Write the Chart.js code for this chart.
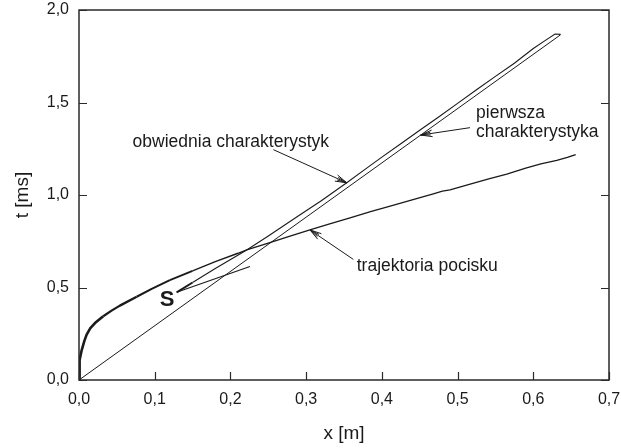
<!DOCTYPE html>
<html><head><meta charset="utf-8">
<script src="https://cdn.jsdelivr.net/npm/chart.js@4/dist/chart.umd.min.js"></script>
<style>html,body{margin:0;padding:0;background:#fff}#wrap{width:621px;height:448px}</style>
</head><body><div id="wrap"><canvas id="c" width="621" height="448"></canvas></div>
<script>
// ---- axis ticks ----
const xTicks = [0, 0.1, 0.2, 0.3, 0.4, 0.5, 0.6, 0.7];
const xTickLabels = ['0,0', '0,1', '0,2', '0,3', '0,4', '0,5', '0,6', '0,7'];
const yTicks = [0, 0.5, 1.0, 1.5, 2.0];
const yTickLabels = ['0,0', '0,5', '1,0', '1,5', '2,0'];

// ---- series: trajektoria pocisku ----
const trajX = [0, 0.0003, 0.0013, 0.0036, 0.007, 0.0101, 0.015, 0.0211, 0.032, 0.043, 0.054, 0.0762, 0.096, 0.12, 0.15, 0.18, 0.21, 0.2215, 0.25, 0.2787, 0.305, 0.33, 0.358, 0.385, 0.411, 0.44, 0.468, 0.48, 0.49, 0.512, 0.54, 0.565, 0.59, 0.61, 0.631, 0.645, 0.656];
const trajT = [0, 0.05, 0.108, 0.162, 0.21, 0.245, 0.28, 0.308, 0.345, 0.375, 0.402, 0.450, 0.493, 0.54, 0.59, 0.64, 0.685, 0.703, 0.74, 0.778, 0.811, 0.843, 0.877, 0.910, 0.940, 0.973, 1.006, 1.021, 1.028, 1.053, 1.086, 1.113, 1.145, 1.168, 1.187, 1.203, 1.218];

// ---- series: pierwsza charakterystyka (straight) ----
const charX = [0, 0.636];
const charT = [0, 1.866];

// ---- series: obwiednia charakterystyk ----
const envX = [0.129, 0.15, 0.18, 0.2215, 0.25, 0.29, 0.32, 0.3536, 0.38, 0.40, 0.425, 0.45, 0.475, 0.50, 0.525, 0.55, 0.575, 0.60, 0.615, 0.6287, 0.636];
const envT = [0.474, 0.527, 0.603, 0.703, 0.778, 0.888, 0.969, 1.066, 1.145, 1.205, 1.277, 1.350, 1.422, 1.495, 1.569, 1.641, 1.712, 1.792, 1.833, 1.870, 1.868];

// ---- series: short branch from S ----
const branchX = [0.129, 0.2258];
const branchT = [0.474, 0.613];

// ---- annotations (data coordinates) ----
const noteTexts = ['obwiednia charakterystyk', 'pierwsza', 'charakterystyka', 'trajektoria pocisku'];
const noteX = [0.0708, 0.5244, 0.5244, 0.3668];
const noteT = [1.287, 1.445, 1.341, 0.616];
const arrowFromX = [0.2568, 0.5164, 0.3623];
const arrowFromT = [1.245, 1.364, 0.652];
const arrowToX = [0.3536, 0.4513, 0.3051];
const arrowToT = [1.066, 1.324, 0.811];
const markText = 'S';
const markX = 0.1162, markT = 0.434;

const pts = (xs, ts) => xs.map((v, i) => ({x: v, y: ts[i]}));
const INK = '#1a1a1a';
const FONT = '"Liberation Sans", Arial, sans-serif';

const framePlugin = {
  id: 'frame',
  afterDraw(chart) {
    const {ctx, chartArea: a, scales: {x, y}} = chart;
    ctx.save();
    ctx.strokeStyle = '#2a2a2a';
    ctx.lineWidth = 1.5;
    ctx.strokeRect(a.left, a.top, a.right - a.left, a.bottom - a.top);
    ctx.beginPath();
    xTicks.forEach(v => {
      const px = Math.round(x.getPixelForValue(v)) + 0.5;
      ctx.moveTo(px, a.bottom); ctx.lineTo(px, a.bottom - 8);
    });
    yTicks.forEach(v => {
      const py = Math.round(y.getPixelForValue(v)) + 0.5;
      ctx.moveTo(a.left, py); ctx.lineTo(a.left + 8, py);
      ctx.moveTo(a.right, py); ctx.lineTo(a.right - 8, py);
    });
    ctx.lineWidth = 1.2;
    ctx.stroke();

    // annotations
    ctx.fillStyle = INK;
    ctx.font = '17.5px ' + FONT;
    ctx.textAlign = 'left';
    ctx.textBaseline = 'middle';
    noteTexts.forEach((t, i) => {
      ctx.fillText(t, x.getPixelForValue(noteX[i]), y.getPixelForValue(noteT[i]));
    });
    ctx.font = 'bold 22px ' + FONT;
    ctx.textAlign = 'center';
    ctx.fillText(markText, x.getPixelForValue(markX), y.getPixelForValue(markT));

    ctx.strokeStyle = INK;
    ctx.lineWidth = 1;
    arrowFromX.forEach((_, i) => {
      const x0 = x.getPixelForValue(arrowFromX[i]), y0 = y.getPixelForValue(arrowFromT[i]);
      const x1 = x.getPixelForValue(arrowToX[i]), y1 = y.getPixelForValue(arrowToT[i]);
      const ang = Math.atan2(y1 - y0, x1 - x0);
      ctx.beginPath();
      ctx.moveTo(x0, y0); ctx.lineTo(x1, y1);
      [-0.28, -0.14, 0.14, 0.28].forEach(d => {
        const L = Math.abs(d) > 0.2 ? 12 : 10;
        ctx.moveTo(x1, y1);
        ctx.lineTo(x1 - L * Math.cos(ang + d), y1 - L * Math.sin(ang + d));
      });
      ctx.stroke();
    });
    ctx.restore();
  }
};

const tickFmt = (ticks, labels) => v => {
  const i = ticks.findIndex(t => Math.abs(t - v) < 1e-9);
  return i >= 0 ? labels[i] : '';
};

const trajWidth = c => {
  const px = c.p0.parsed.x;
  if (px < 0.03) return 2.6;
  if (px < 0.06) return 2.3;
  if (px < 0.1) return 2.0;
  if (px < 0.15) return 1.7;
  if (px < 0.2) return 1.5;
  return 1.3;
};

new Chart(document.getElementById('c'), {
  type: 'scatter',
  data: {
    datasets: [
      {data: pts(trajX, trajT), showLine: true, pointRadius: 0, borderColor: INK, borderWidth: 1.3,
       borderJoinStyle: 'round', segment: {borderWidth: trajWidth}},
      {data: pts(charX, charT), showLine: true, pointRadius: 0, borderColor: INK, borderWidth: 1},
      {data: pts(envX, envT), showLine: true, pointRadius: 0, borderColor: INK, borderWidth: 1.1,
       segment: {borderWidth: c => (c.p0DataIndex === 0 ? 2 : 1.1)}},
      {data: pts(branchX, branchT), showLine: true, pointRadius: 0, borderColor: INK, borderWidth: 1.1}
    ]
  },
  options: {
    responsive: false,
    animation: false,
    devicePixelRatio: 1,
    layout: {padding: {left: 0, right: 12, top: 10, bottom: 0}},
    plugins: {legend: {display: false}, tooltip: {enabled: false}},
    scales: {
      x: {
        type: 'linear', min: 0, max: 0.7,
        afterBuildTicks: s => { s.ticks = xTicks.map(v => ({value: v})); },
        afterFit: s => { s.height = 68; s.paddingLeft = 0; s.paddingRight = 0; },
        grid: {display: false, drawTicks: false},
        border: {display: false},
        ticks: {padding: 10, color: INK, font: {family: FONT, size: 16}, callback: tickFmt(xTicks, xTickLabels), maxRotation: 0},
        title: {display: true, text: 'x [m]', color: INK, font: {family: FONT, size: 19}, padding: {top: 0, bottom: 3}}
      },
      y: {
        type: 'linear', min: 0, max: 2,
        afterBuildTicks: s => { s.ticks = yTicks.map(v => ({value: v})); },
        afterFit: s => { s.width = 79; s.paddingTop = 0; s.paddingBottom = 0; },
        grid: {display: false, drawTicks: false},
        border: {display: false},
        ticks: {padding: 10, color: INK, font: {family: FONT, size: 16}, callback: tickFmt(yTicks, yTickLabels)},
        title: {display: true, text: 't [ms]', color: INK, font: {family: FONT, size: 19}, padding: {top: 11, bottom: 0}}
      }
    }
  },
  plugins: [framePlugin]
});
</script>
</body></html>
